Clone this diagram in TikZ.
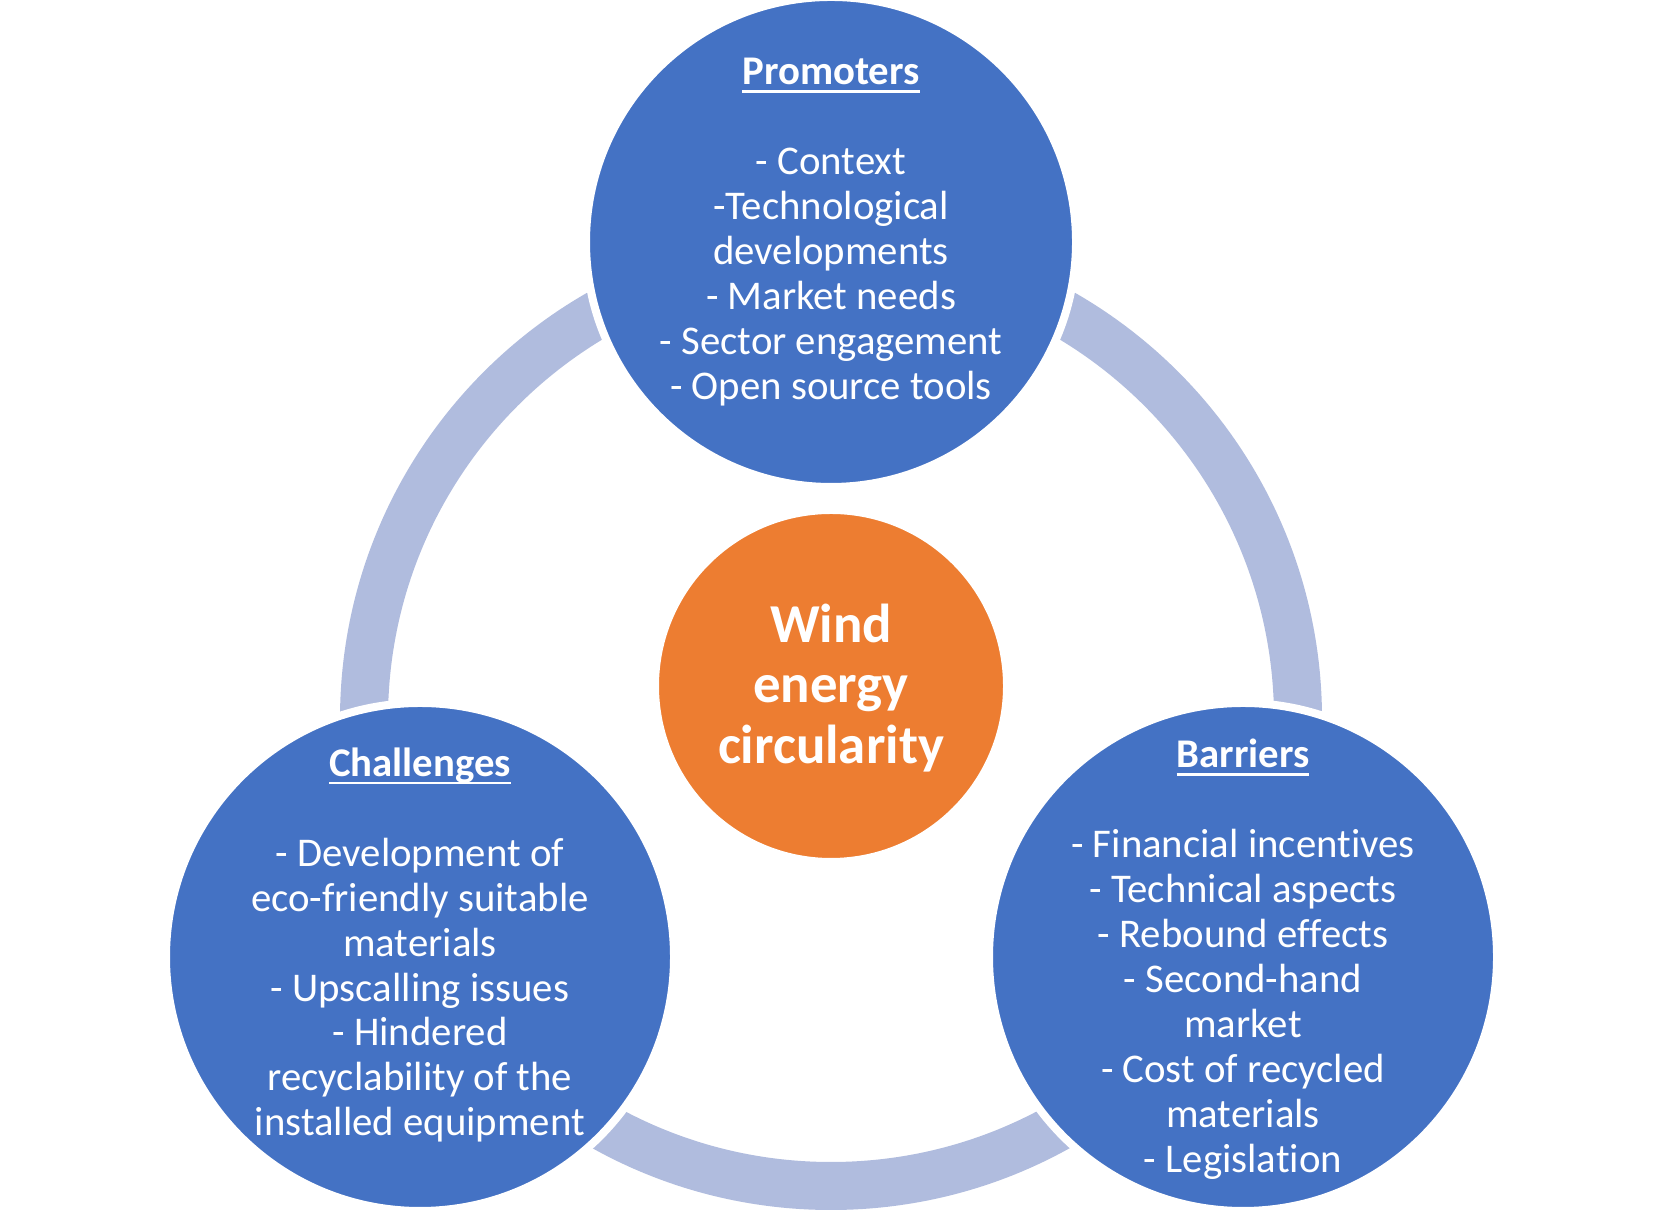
\documentclass[tikz,border=0pt]{standalone}
\usepackage{fontspec}
\setmainfont{Carlito}[Ligatures=NoCommon]
\usetikzlibrary{positioning}
\definecolor{cblue}{RGB}{68,114,196}
\definecolor{corange}{RGB}{237,125,49}
\definecolor{cring}{RGB}{176,188,222}
\newcommand{\uhead}[1]{\setbox0\hbox{\bfseries #1}\rlap{\rule[-2.4pt]{\wd0}{0.8pt}}\box0}

\begin{document}
\begin{tikzpicture}[
    bubble/.style={circle, fill=cblue, draw=white, line width=0.8mm, inner sep=0pt},
    core/.style={circle, fill=corange, draw=white, line width=0.8mm, inner sep=0pt},
    bubtext/.style={text=white, align=center, inner sep=0pt, font=\fontsize{11.6}{12.8}\selectfont},
    coretext/.style={text=white, align=center, inner sep=0pt, font=\bfseries\fontsize{15.6}{17.2}\selectfont}
  ]
  \useasboundingbox (0,0) rectangle (16.64,12.28);
  % ring behind the circles
  \coordinate (hub) at (8.31,5.09);
  \draw[cring, line width=4.8mm] (hub) circle (4.67);

  \node[bubble, minimum size=4.9cm] (prom) at (8.31,9.86) {};
  \node[bubble, minimum size=5.08cm] (chal) at (4.20,2.71) {};
  \node[bubble, minimum size=5.08cm] (barr) at (12.43,2.71) {};
  \node[core, minimum size=3.52cm] (wind) at (8.31,5.42) {};

  \node[bubtext] (promtxt) at (8.31,9.96) {\uhead{Promoters}\\[12.8pt]
    - Context\\ -Technological\\ developments\\ - Market needs\\
    - Sector engagement\\ - Open source tools};
  \node[bubtext] (chaltxt) at (4.20,2.83) {\uhead{Challenges}\\[12.8pt]
    - Development of\\ eco-friendly suitable\\ materials\\ - Upscalling issues\\
    - Hindered\\ recyclability of the\\ installed equipment};
  \node[bubtext] (barrtxt) at (12.43,2.69) {\uhead{Barriers}\\[12.8pt]
    - Financial incentives\\ - Technical aspects\\ - Rebound effects\\
    - Second-hand\\ market\\ - Cost of recycled\\ materials\\ - Legislation};
  \node[coretext] (windtxt) at (8.31,5.40) {Wind\\ energy\\ circularity};
\end{tikzpicture}
\end{document}
